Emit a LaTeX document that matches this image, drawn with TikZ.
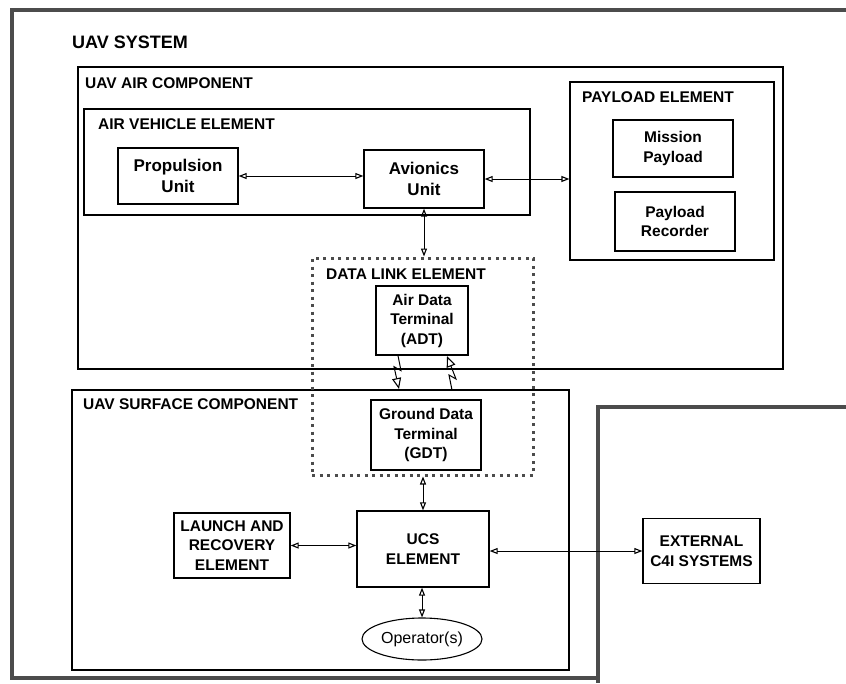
\documentclass[tikz,border=0pt]{standalone}
\usepackage{fontspec}
\setmainfont{Liberation Sans}
\usetikzlibrary{arrows.meta,fit,shapes.geometric}

\tikzset{
  unitbox/.style={draw,line width=1.3pt,align=center,inner sep=0pt,
    font=\bfseries\fontsize{15.5}{19.5}\selectfont},
  bigunit/.style={unitbox,font=\bfseries\fontsize{17}{21}\selectfont},
  group/.style={draw,line width=1.2pt,inner sep=0pt},
  grouplbl/.style={anchor=west,inner sep=0pt,
    font=\bfseries\fontsize{15.5}{19}\selectfont},
  dotbox/.style={draw=black!70,line width=3pt,dash pattern=on 3pt off 4.5pt,inner sep=0pt},
  link/.style={line width=0.9pt,
    {Triangle[open,length=8pt,width=6pt,line width=1.1pt]}-{Triangle[open,length=8pt,width=6pt,line width=1.1pt]}},
  bolt/.style={line width=1pt,-{Triangle[open,length=11pt,width=9pt,line width=1.1pt]}},
  frame/.style={line width=3.5pt,draw=black!70},
}

\begin{document}
\begin{tikzpicture}[x=1pt,y=-1pt]
  \useasboundingbox (0,0) rectangle (846,683);

  % system frame and external area
  \draw[frame] (846,10) -- (12,10) -- (12,678) -- (598,678);
  \draw[frame] (846,407) -- (598,407) -- (598,683);
  \node[grouplbl,font=\bfseries\fontsize{18}{22}\selectfont] (syslbl) at (72,42) {UAV SYSTEM};

  % air component
  \node[group,fit={(78,67) (783,369)}] (aircomp) {};
  \node[grouplbl] (airlbl) at (85,83) {UAV AIR COMPONENT};

  \node[group,fit={(84,109) (530,215)}] (avelem) {};
  \node[grouplbl] (avlbl) at (98,124) {AIR VEHICLE ELEMENT};
  \node[bigunit,minimum width=120,minimum height=56] (prop) at (178,176) {Propulsion\\Unit};
  \node[bigunit,minimum width=120,minimum height=58] (avion) at (424,179) {Avionics\\Unit};

  \node[group,fit={(570,82) (774,260)}] (payelem) {};
  \node[grouplbl] (paylbl) at (582,97) {PAYLOAD ELEMENT};
  \node[unitbox,minimum width=120,minimum height=57] (mission) at (673,148.5) {Mission\\Payload};
  \node[unitbox,minimum width=120,minimum height=59] (recorder) at (675,221.5) {Payload\\Recorder};

  % surface component
  \node[group,fit={(72,390) (569,670)}] (surfcomp) {};
  \node[grouplbl] (surflbl) at (83,404) {UAV SURFACE COMPONENT};

  % data link
  \node[dotbox,fit={(312,258) (533,475)}] (datalink) {};
  \node[grouplbl] (dllbl) at (326,274) {DATA LINK ELEMENT};
  \node[unitbox,minimum width=92,minimum height=69] (adt) at (422,320.5) {Air Data\\Terminal\\(ADT)};
  \node[unitbox,minimum width=110,minimum height=70] (gdt) at (426,435) {Ground Data\\Terminal\\(GDT)};

  \node[unitbox,minimum width=132,minimum height=76] (ucs) at (423,549) {UCS\\ELEMENT};
  \node[unitbox,minimum width=116,minimum height=65] (launch) at (232,545.5) {LAUNCH AND\\RECOVERY\\ELEMENT};
  \node[draw,ellipse,line width=1.1pt,inner sep=0pt,minimum width=120,minimum height=42,
    font=\fontsize{16}{19}\selectfont] (oper) at (422,639) {Operator(s)};
  \node[unitbox,minimum width=117,minimum height=65] (ext) at (701.5,551) {EXTERNAL\\C4I SYSTEMS};

  % connectors
  \draw[link] (prop.east) -- (prop.east -| avion.west);
  \draw[link] (avion.east) -- (avion.east -| payelem.west);
  \draw[link] (avion.south) -- (avion.south |- datalink.north);
  \draw[link] (datalink.south -| ucs.north) -- (ucs.north);
  \draw[link] (launch.east) -- (launch.east -| ucs.west);
  \draw[link] (ucs.east |- ext.west) -- (ext.west);
  \draw[link] (ucs.south -| oper.north) -- (oper.north);

  % radio links
  \coordinate (downend) at (399,389);
  \coordinate (upend) at (447,356);
  \draw[bolt] ([xshift=-24pt]adt.south) -- ++(3,15) -- ++(-7,-4) -- (downend);
  \draw[bolt] (452,390) -- ++(-3,-15) -- ++(7,4) -- (upend);
\end{tikzpicture}
\end{document}
